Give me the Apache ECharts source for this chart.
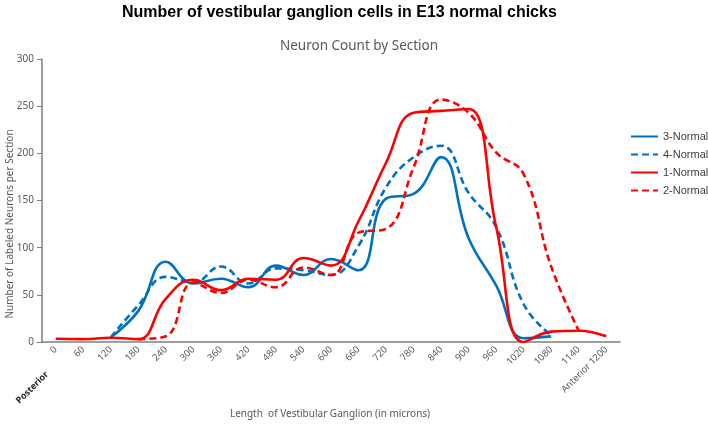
<!DOCTYPE html>
<html>
<head>
<meta charset="utf-8">
<script src="https://cdn.jsdelivr.net/npm/echarts@6/dist/echarts.min.js"></script>
<style>
  html, body { margin: 0; padding: 0; background: #fff; }
  #chart { width: 708px; height: 424px; }
</style>
</head>
<body>
<div id="chart"></div>
<script>
// section positions along the ganglion (microns)
const sections = ['0', '60', '120', '180', '240', '300', '360', '420', '480', '540', '600',
  '660', '720', '780', '840', '900', '960', '1020', '1080', '1140', 'Anterior 1200']

// neuron counts per section
const normal3 = [null, null, 5, 33, 85, 62, 67, 58, 81, 71, 88,
  76, 152, 157, 196, 110, 60, 4, 6, null, null]
const normal4 = [null, null, 5, 39, 69, 63, 80, 62, 78, 76, 71,
  102, 164, 196, 208, 158, 122, 40, 7, null, null]
const normal1 = [3.5, 3, 4.5, 3, 46, 66, 55, 67, 66, 89, 81,
  128, 190, 243, 245, 247, 122, 0, 11, 12, 6]
const normal2 = [null, null, null, 3, 6, 63, 52, 66, 58, 79, 71,
  116, 120, 185, 257, 243, 201, 178, 80, 12, null]

const blue = '#0070c0'
const red = '#ff0000'
const grey = '#595959'
const font = 'Liberation Sans, Arial, sans-serif'

function makeSeries(name, data, color, type) {
  return {
    name: name,
    type: 'line',
    smooth: 0.45,
    symbol: 'none',
    connectNulls: false,
    data: data,
    lineStyle: { color: color, width: 2.6, type: type === 'dashed' ? [7, 4] : 'solid' },
    itemStyle: { color: color }
  }
}

const chart = echarts.init(document.getElementById('chart'))

chart.setOption({
  animation: false,
  backgroundColor: '#fff',
  title: [
    {
      text: 'Number of vestibular ganglion cells in E13 normal chicks',
      left: 117,
      top: 0,
      textStyle: { fontFamily: font, fontSize: 16, fontWeight: 'bold', color: '#000' }
    },
    {
      text: 'Neuron Count by Section',
      left: 275,
      top: 34,
      textStyle: { fontFamily: 'Noto Sans', fontSize: 13.5, fontWeight: 'normal', color: grey }
    }
  ],
  legend: {
    orient: 'vertical',
    left: 625,
    top: 126,
    itemWidth: 27,
    itemHeight: 12,
    itemGap: 7,
    itemStyle: { opacity: 0 },
    textStyle: { fontFamily: font, fontSize: 11, color: '#404040' },
    data: ['3-Normal', '4-Normal', '1-Normal', '2-Normal']
  },
  grid: {
    left: 42,
    right: 88,
    top: 59,
    bottom: 82,
    containLabel: false
  },
  xAxis: {
    type: 'category',
    data: sections,
    boundaryGap: true,
    name: 'Length  of Vestibular Ganglion (in microns)',
    nameLocation: 'middle',
    nameGap: 67,
    nameTextStyle: { fontFamily: 'Noto Sans', fontSize: 10, color: grey, padding: [0, 2, 0, 0] },
    axisLine: { lineStyle: { color: '#7f7f7f', width: 1.5 } },
    axisTick: { alignWithLabel: true, length: 5, lineStyle: { color: '#7f7f7f' } },
    axisLabel: { rotate: 45, margin: 6, fontFamily: 'Noto Sans', fontSize: 9.5, color: grey, interval: 0 },
    splitLine: { show: false }
  },
  yAxis: {
    type: 'value',
    min: 0,
    max: 300,
    interval: 50,
    axisLine: { show: true, lineStyle: { color: '#7f7f7f', width: 1.5 } },
    axisTick: { show: true, length: 5, lineStyle: { color: '#7f7f7f' } },
    axisLabel: { margin: 8, fontFamily: 'Noto Sans', fontSize: 10, color: grey },
    splitLine: { show: false }
  },
  graphic: [
    {
      // y axis title, sits a little below the axis middle as in the source figure
      type: 'text',
      x: 10,
      y: 224,
      rotation: Math.PI / 2,
      style: {
        text: 'Number of Labeled Neurons per Section',
        align: 'center',
        verticalAlign: 'middle',
        font: '10px Noto Sans',
        fill: grey
      }
    },
    {
      type: 'text',
      x: 47,
      y: 373,
      rotation: Math.PI / 4,
      style: {
        text: 'Posterior',
        align: 'right',
        verticalAlign: 'middle',
        font: 'bold 9px Noto Sans',
        fill: '#262626'
      }
    }
  ],
  series: [
    makeSeries('3-Normal', normal3, blue, 'solid'),
    makeSeries('4-Normal', normal4, blue, 'dashed'),
    makeSeries('1-Normal', normal1, red, 'solid'),
    makeSeries('2-Normal', normal2, red, 'dashed')
  ]
})
</script>
</body>
</html>
